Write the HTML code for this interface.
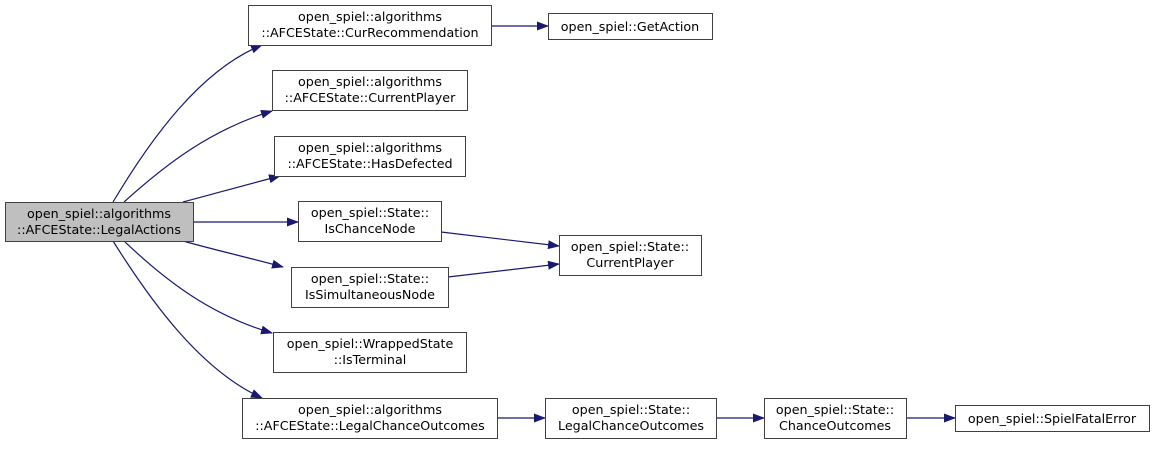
<!DOCTYPE html>
<html><head><meta charset="utf-8"><style>
body{margin:0;background:#fff}
text{font-family:"DejaVu Sans","Liberation Sans",sans-serif;font-size:12.7px;fill:#000}
</style></head><body>
<svg width="1155" height="444" viewBox="0 0 1155 444" xmlns="http://www.w3.org/2000/svg">
<defs><marker id="a" markerWidth="12" markerHeight="9" refX="11" refY="4.5" orient="auto" markerUnits="userSpaceOnUse"><path d="M0,0 L12,4.5 L0,9 z" fill="#191970"/></marker></defs>
<g fill="none" stroke="#191970" stroke-width="1.2" marker-end="url(#a)">
<path d="M113,202 C150,140 200,70 262,45"/>
<path d="M124,202 C165,165 210,130 272,111"/>
<path d="M183,202 C210,195 245,185 280,176"/>
<path d="M193,222 L298,222"/>
<path d="M183,241 C215,250 250,258 283,267"/>
<path d="M124,241 C165,280 210,315 272,333"/>
<path d="M113,241 C150,300 200,370 262,398"/>
<path d="M491,26 L548,26"/>
<path d="M441,232 L559,246"/>
<path d="M448,277 L559,264"/>
<path d="M497,418 L545,418"/>
<path d="M716,418 L764,418"/>
<path d="M906,418 L955,418"/>
</g>
<g stroke="#404040" stroke-width="1" fill="#fff">
<rect x="5.5" y="202.5" width="188" height="39" fill="#bfbfbf"/>
<rect x="248.5" y="5.5" width="243" height="40"/>
<rect x="272.5" y="70.5" width="195" height="40"/>
<rect x="274.5" y="136.5" width="191" height="40"/>
<rect x="298.5" y="201.5" width="143" height="40"/>
<rect x="291.5" y="267.5" width="157" height="40"/>
<rect x="273.5" y="332.5" width="193" height="40"/>
<rect x="242.5" y="398.5" width="255" height="40"/>
<rect x="559.5" y="235.5" width="142" height="40"/>
<rect x="548.5" y="13.5" width="164" height="26"/>
<rect x="545.5" y="398.5" width="171" height="40"/>
<rect x="764.5" y="398.5" width="142" height="40"/>
<rect x="955.5" y="405.5" width="194" height="26"/>
</g>
<g text-anchor="middle">
<text x="99" y="218">open_spiel::algorithms</text><text x="99" y="234">::AFCEState::LegalActions</text>
<text x="370" y="21">open_spiel::algorithms</text><text x="370" y="37">::AFCEState::CurRecommendation</text>
<text x="370" y="86">open_spiel::algorithms</text><text x="370" y="102">::AFCEState::CurrentPlayer</text>
<text x="370" y="152">open_spiel::algorithms</text><text x="370" y="168">::AFCEState::HasDefected</text>
<text x="370" y="217">open_spiel::State::</text><text x="370" y="233">IsChanceNode</text>
<text x="370" y="283">open_spiel::State::</text><text x="370" y="299">IsSimultaneousNode</text>
<text x="370" y="348">open_spiel::WrappedState</text><text x="370" y="364">::IsTerminal</text>
<text x="370" y="414">open_spiel::algorithms</text><text x="370" y="430">::AFCEState::LegalChanceOutcomes</text>
<text x="630" y="251">open_spiel::State::</text><text x="630" y="267">CurrentPlayer</text>
<text x="630" y="31">open_spiel::GetAction</text>
<text x="631" y="414">open_spiel::State::</text><text x="631" y="430">LegalChanceOutcomes</text>
<text x="835" y="414">open_spiel::State::</text><text x="835" y="430">ChanceOutcomes</text>
<text x="1052" y="423">open_spiel::SpielFatalError</text>
</g>
</svg>
</body></html>
